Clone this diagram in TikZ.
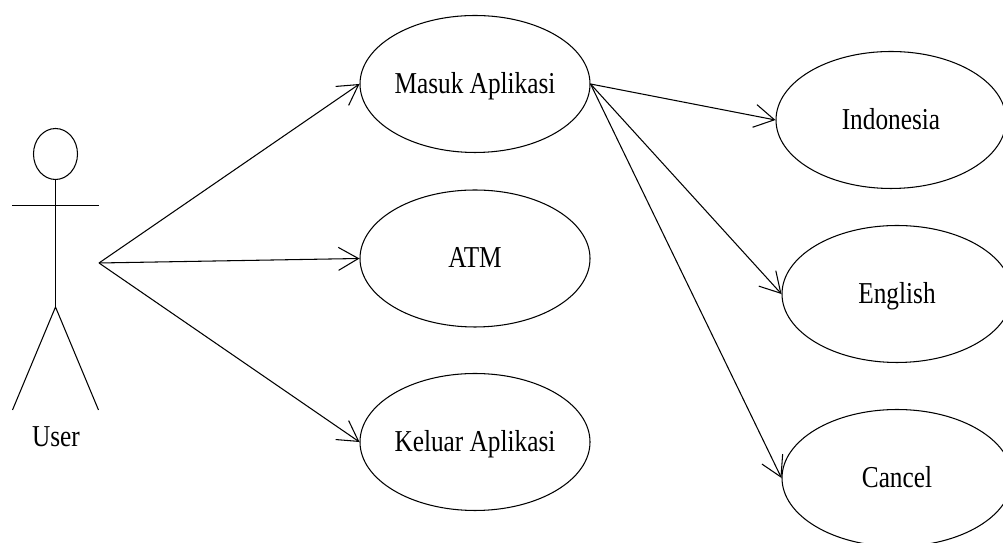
\documentclass[tikz,border=0pt]{standalone}
\usepackage{fontspec}
\usepackage{graphicx}
\setmainfont{Liberation Serif}
\usetikzlibrary{arrows.meta, shapes.geometric}
\newcommand{\tall}[1]{\scalebox{1}[1.2]{#1}}
\tikzset{
	label font/.style={font=\fontsize{14.4}{17}\selectfont, text height=0.45cm, text depth=0.07cm},
	usecase/.style={draw, ellipse, inner sep=0pt, minimum width=4.6cm, minimum height=2.74cm, label font},
	assoc/.style={-{Straight Barb[length=0.4cm, width=0.46cm]}},
}
\begin{document}
\begin{tikzpicture}[line width=0.6pt]
	\useasboundingbox (0,0) rectangle (20.06,10.86);
	\clip (0,0) rectangle (20.06,10.86);
	\coordinate (neck) at (1.11, 7.26);
	\coordinate (hip) at (1.11, 4.72);
	\coordinate (hand) at (1.98, 5.60);
	
	\draw (1.11,7.78) ellipse (0.44 and 0.51);
	\draw (neck) -- (hip);
	\draw (0.24,6.75) -- (1.98,6.75);
	\draw (0.25,2.66) -- (hip) -- (1.97,2.66);
	\node [label font] (user) at (1.12,2.12) {\tall{User}};
	
	\node [usecase] (masuk) at (9.50,9.18) {\tall{Masuk Aplikasi}};
	\node [usecase] (atm) at (9.50,5.69) {\tall{ATM}};
	\node [usecase] (keluar) at (9.50,2.02) {\tall{Keluar Aplikasi}};
	\node [usecase] (indonesia) at (17.82,8.46) {\tall{Indonesia}};
	\node [usecase] (english) at (17.94,4.98) {\tall{English}};
	\node [usecase] (cancel) at (17.94,1.30) {\tall{Cancel}};
	
	\draw [assoc] (hand) -- (masuk.west);
	\draw [assoc] (hand) -- (atm.west);
	\draw [assoc] (hand) -- (keluar.west);
	\draw [assoc] (masuk.east) -- (indonesia.west);
	\draw [assoc] (masuk.east) -- (english.west);
	\draw [assoc] (masuk.east) -- (cancel.west);
	
\end{tikzpicture}
\end{document}
